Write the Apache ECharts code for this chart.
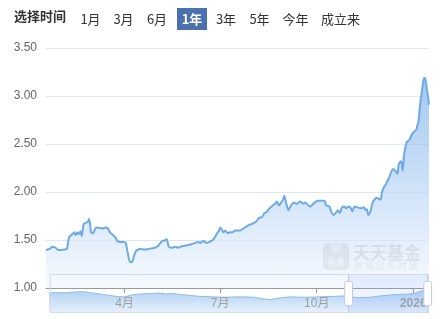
<!DOCTYPE html>
<html><head><meta charset="utf-8">
<script src="https://cdn.jsdelivr.net/npm/echarts@6/dist/echarts.min.js"></script>
<style>html,body{margin:0;padding:0;background:#fff}#c{width:442px;height:319px}</style>
</head><body><div id="c"></div>
<script>
// ---- data ----
const dates = ['2025-01-16','2025-01-20','2025-01-22','2025-01-25','2025-01-27','2025-01-29','2025-02-03','2025-02-05','2025-02-07','2025-02-10','2025-02-12','2025-02-13','2025-02-15','2025-02-16','2025-02-18','2025-02-19','2025-02-21','2025-02-23','2025-02-25','2025-02-26','2025-02-27','2025-02-28','2025-03-02','2025-03-04','2025-03-06','2025-03-08','2025-03-11','2025-03-14','2025-03-16','2025-03-18','2025-03-21','2025-03-23','2025-03-25','2025-03-28','2025-03-31','2025-04-02','2025-04-04','2025-04-06','2025-04-08','2025-04-10','2025-04-12','2025-04-14','2025-04-15','2025-04-20','2025-04-25','2025-04-30','2025-05-03','2025-05-05','2025-05-07','2025-05-10','2025-05-11','2025-05-13','2025-05-16','2025-05-19','2025-05-22','2025-05-24','2025-05-28','2025-06-02','2025-06-07','2025-06-10','2025-06-12','2025-06-15','2025-06-18','2025-06-21','2025-06-24','2025-06-26','2025-06-28','2025-06-30','2025-07-01','2025-07-03','2025-07-04','2025-07-06','2025-07-08','2025-07-10','2025-07-13','2025-07-15','2025-07-20','2025-07-23','2025-07-26','2025-07-29','2025-08-01','2025-08-04','2025-08-07','2025-08-10','2025-08-12','2025-08-14','2025-08-17','2025-08-19','2025-08-22','2025-08-24','2025-08-26','2025-08-28','2025-08-30','2025-08-31','2025-09-02','2025-09-04','2025-09-06','2025-09-09','2025-09-12','2025-09-15','2025-09-18','2025-09-20','2025-09-23','2025-09-25','2025-09-27','2025-09-30','2025-10-03','2025-10-07','2025-10-09','2025-10-10','2025-10-13','2025-10-15','2025-10-17','2025-10-19','2025-10-21','2025-10-23','2025-10-25','2025-10-27','2025-10-29','2025-10-31','2025-11-02','2025-11-04','2025-11-06','2025-11-09','2025-11-12','2025-11-15','2025-11-17','2025-11-18','2025-11-19','2025-11-21','2025-11-23','2025-11-25','2025-11-27','2025-11-29','2025-12-01','2025-12-02','2025-12-04','2025-12-06','2025-12-07','2025-12-09','2025-12-11','2025-12-13','2025-12-15','2025-12-17','2025-12-18','2025-12-20','2025-12-21','2025-12-22','2025-12-23','2025-12-25','2025-12-26','2025-12-28','2025-12-29','2025-12-31','2026-01-02','2026-01-04','2026-01-05','2026-01-06','2026-01-07','2026-01-08','2026-01-09','2026-01-10','2026-01-11','2026-01-12','2026-01-13','2026-01-14','2026-01-15','2026-01-16'];
const nav = [1.396,1.41,1.43,1.42,1.40,1.396,1.40,1.41,1.53,1.56,1.58,1.55,1.58,1.56,1.59,1.54,1.67,1.68,1.69,1.72,1.67,1.58,1.57,1.62,1.63,1.625,1.62,1.63,1.62,1.58,1.55,1.53,1.49,1.48,1.48,1.47,1.36,1.27,1.27,1.34,1.39,1.40,1.41,1.40,1.41,1.42,1.44,1.47,1.49,1.50,1.51,1.43,1.42,1.43,1.42,1.43,1.44,1.45,1.47,1.48,1.47,1.49,1.47,1.48,1.50,1.53,1.57,1.60,1.63,1.60,1.58,1.60,1.57,1.58,1.58,1.60,1.60,1.62,1.64,1.66,1.67,1.69,1.73,1.74,1.78,1.79,1.83,1.85,1.875,1.90,1.86,1.89,1.92,1.96,1.88,1.81,1.85,1.89,1.875,1.90,1.88,1.89,1.86,1.85,1.87,1.90,1.91,1.91,1.90,1.86,1.85,1.79,1.76,1.78,1.81,1.78,1.84,1.85,1.83,1.85,1.84,1.80,1.85,1.84,1.83,1.84,1.81,1.82,1.76,1.79,1.88,1.92,1.94,1.93,1.92,1.99,2.05,2.08,2.11,2.15,2.21,2.24,2.22,2.19,2.28,2.32,2.30,2.22,2.37,2.49,2.525,2.54,2.56,2.61,2.63,2.65,2.70,2.73,2.85,2.96,3.03,3.11,3.18,3.19,3.15,3.07,3.00,2.91];
// overview series shown in the zoom slider
const shadowDates = ['2025-01-16','2025-01-22','2025-01-31','2025-02-10','2025-02-17','2025-02-24','2025-03-06','2025-03-16','2025-03-23','2025-03-30','2025-04-06','2025-04-14','2025-04-23','2025-05-03','2025-05-08','2025-05-14','2025-05-22','2025-06-01','2025-06-10','2025-06-22','2025-07-04','2025-07-19','2025-08-02','2025-08-09','2025-08-17','2025-08-24','2025-09-05','2025-09-19','2025-10-04','2025-10-18','2025-10-28','2025-11-02','2025-11-11','2025-11-21','2025-12-01','2025-12-12','2025-12-20','2025-12-30','2026-01-06','2026-01-11','2026-01-14','2026-01-16'];
const shadowValues = [2.05,2.10,2.08,2.15,2.21,2.10,1.95,1.79,1.67,1.64,1.85,1.95,2.00,2.05,1.95,2.00,1.90,1.79,1.69,1.64,1.59,1.64,1.59,1.44,1.33,1.49,1.64,1.59,1.64,1.69,1.74,1.64,1.54,1.59,1.74,1.85,1.90,1.95,2.10,2.31,2.56,2.87];
const xTickDates = ['2025-04-01','2025-07-01','2025-10-01','2026-01-01'];
const xTickLabels = ['4月','7月','10月','2026'];
const yMin = 1.0, yMax = 3.5, yStep = 0.5;
const buttons = ['1月','3月','6月','1年','3年','5年','今年','成立来'];
const activeButton = '1年';

// ---- layout ----
const btnCenters = [90.5,123.5,157,192,226,259.5,295.5,340.5];
const FONT = '"Noto Sans CJK SC","Microsoft YaHei",sans-serif';
const LFONT = '"Liberation Sans",Arial,"Noto Sans CJK SC",sans-serif';
function ts(s){const p=s.split('-').map(Number);return new Date(p[0],p[1]-1,p[2]).getTime();}
const tickTs = xTickDates.map(ts);

const graphics = [
  {type:'text', left:14, top:10, style:{text:'选择时间', font:'bold 13px '+FONT, fill:'#333'}}
];
buttons.forEach((b,i)=>{
  const active = b===activeButton;
  if(active){
    graphics.push({type:'rect', shape:{x:btnCenters[i]-15, y:8, width:30, height:22}, style:{fill:'#4a70b0'}});
  }
  graphics.push({type:'text', x:btnCenters[i], y:19, style:{text:b, font:(active?'bold ':'')+'13px '+FONT, fill:active?'#fff':'#333', textAlign:'center', textVerticalAlign:'middle'}});
});
// watermark
graphics.push({type:'group', z:1, silent:true, children:[
  {type:'rect', shape:{x:323, y:243, width:26, height:27, r:5}, style:{fill:'rgba(150,150,150,0.45)'}},
  {type:'circle', shape:{cx:336, cy:247, r:6}, style:{fill:'rgba(255,255,255,0.6)'}},
  {type:'text', x:336, y:262, style:{text:'基金', font:'bold 9px '+FONT, fill:'rgba(255,255,255,0.9)', textAlign:'center', textVerticalAlign:'middle'}},
  {type:'text', x:353, y:253, style:{text:'天天基金', font:'bold 17px '+FONT, fill:'rgba(140,140,140,0.5)', textVerticalAlign:'middle'}},
  {type:'text', x:354, y:266, style:{text:'链 接 您 与 财 富', font:'9px '+FONT, fill:'rgba(140,140,140,0.42)', textVerticalAlign:'middle'}}
]});

const chart = echarts.init(document.getElementById('c'), null, {renderer:'canvas'});
chart.setOption({
  animation:false,
  graphic: graphics,
  grid:[
    {left:46, right:13, top:48, bottom:31},
    {left:49, right:14, top:275, height:37}
  ],
  xAxis:[
    {type:'value', gridIndex:0, z:6, min:ts(dates[0]), max:ts(dates[dates.length-1]),
     axisLine:{lineStyle:{color:'#9a9a9a'}},
     axisTick:{show:true, customValues:tickTs, length:5, lineStyle:{color:'#9a9a9a'}},
     axisLabel:{customValues:tickTs, color:'#a0a0a0', fontSize:12, fontFamily:LFONT, margin:10,
       formatter:function(v){const i=tickTs.indexOf(v);const t=i>=0?xTickLabels[i]:'';return i===3?'{y|'+t+'}':t;},
       rich:{y:{fontWeight:'bold', color:'#a0a0a0', fontSize:12, fontFamily:LFONT}}},
     splitLine:{show:false}},
    {type:'value', gridIndex:1, show:false, min:ts(shadowDates[0]), max:ts(shadowDates[shadowDates.length-1])},
    {type:'value', gridIndex:1, show:false, min:0, max:100}
  ],
  yAxis:[
    {type:'value', gridIndex:0, min:yMin, max:yMax, interval:yStep,
     axisLine:{show:false}, axisTick:{show:false},
     axisLabel:{color:'#666', fontSize:12, fontFamily:LFONT, margin:9, formatter:v=>v.toFixed(2)},
     splitLine:{lineStyle:{color:'#E0E6F1'}}},
    {type:'value', gridIndex:1, show:false, min:0, max:4}
  ],
  dataZoom:[{
    type:'slider', xAxisIndex:2, start:78.6, end:100,
    left:49, right:14, top:274, height:39, z:10,
    showDataShadow:false, showDetail:false, brushSelect:false,
    backgroundColor:'rgba(255,255,255,0)', borderColor:'#d2dbee',
    fillerColor:'rgba(135,175,255,0.15)'
  }],
  series:[
    {type:'line', xAxisIndex:0, yAxisIndex:0, data:dates.map((d,i)=>[ts(d),nav[i]]),
     showSymbol:false, smooth:0.2, z:3,
     lineStyle:{width:2, color:'#6eaae8'},
     areaStyle:{color:new echarts.graphic.LinearGradient(0,0,0,1,[{offset:0,color:'#7bb0ea'},{offset:1,color:'#f2f7fe'}])}},
    {type:'line', xAxisIndex:1, yAxisIndex:1, data:shadowDates.map((d,i)=>[ts(d),shadowValues[i]]),
     showSymbol:false, silent:true, z:1,
     lineStyle:{width:1, color:'#8dbbea'},
     areaStyle:{opacity:1, color:new echarts.graphic.LinearGradient(0,0,0,1,[{offset:0,color:'#a6caf0'},{offset:1,color:'#e6f0fc'}])}},
    {type:'line', xAxisIndex:2, yAxisIndex:1, data:[[0,0],[100,0]], showSymbol:false, silent:true,
     lineStyle:{opacity:0}}
  ]
});
</script></body></html>
